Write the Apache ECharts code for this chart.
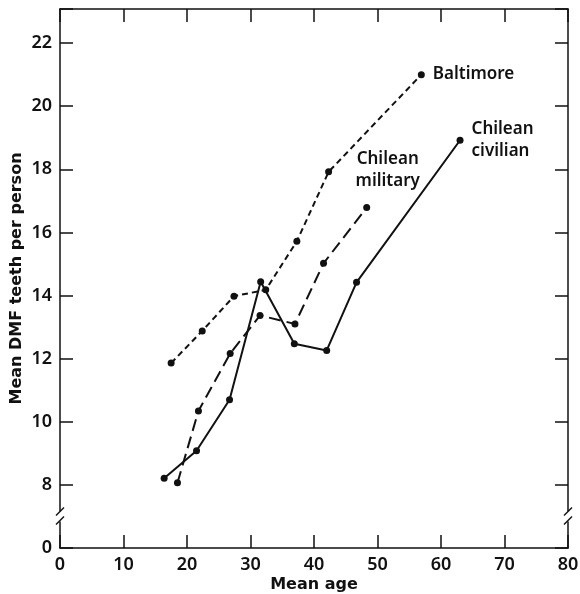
<!DOCTYPE html>
<html>
<head>
<meta charset="utf-8">
<script src="https://cdn.jsdelivr.net/npm/echarts@6/dist/echarts.min.js"></script>
<style>
  html, body { margin: 0; padding: 0; background: #fff; }
  #chart { width: 580px; height: 594px; }
</style>
</head>
<body>
<div id="chart"></div>
<script>
// 数据
const baltimoreAge = [17.5, 22.4, 27.4, 32.4, 37.3, 42.3, 56.9]
const baltimoreDMF = [11.86, 12.88, 13.98, 14.18, 15.72, 17.92, 21.0]
const militaryAge = [18.5, 21.8, 26.8, 31.5, 37.0, 41.5, 48.3]
const militaryDMF = [8.07, 10.34, 12.16, 13.37, 13.1, 15.02, 16.79]
const civilianAge = [16.4, 21.5, 26.7, 31.6, 36.9, 42.0, 46.7, 63.0]
const civilianDMF = [8.21, 9.08, 10.7, 14.44, 12.47, 12.26, 14.42, 18.92]
const yTicks = [8, 10, 12, 14, 16, 18, 20, 22]
// y 轴在 0 与 8 之间断开，底部 6 的位置显示为 0
const yBottom = 6
const yBreak = 7

const font = 'Noto Sans'
const nameFont = 'DejaVu Sans'
const ink = '#111'

const toPairs = (xs, ys) => xs.map((x, i) => [x, ys[i]])

const lastLabel = (pairs, label) => pairs.map((p, i) =>
  i === pairs.length - 1 ? { value: p, label: Object.assign({ show: true }, label) } : p)

const seriesLabelStyle = {
  color: ink,
  fontFamily: font,
  fontSize: 17,
  fontWeight: 600,
  lineHeight: 22
}

const lineSeries = (name, data, dash) => ({
  name,
  type: 'line',
  data,
  symbol: 'circle',
  symbolSize: 7,
  itemStyle: { color: ink },
  lineStyle: { color: ink, width: 2, type: dash },
  z: 3
})

const axisLine = { show: true, onZero: false, lineStyle: { color: ink, width: 1.5 } }
const axisTick = { show: true, inside: true, length: 13, lineStyle: { color: ink, width: 1.5 } }
const tickLabel = { color: ink, fontFamily: font, fontSize: 18, fontWeight: 600, margin: 8 }
const nameStyle = { color: ink, fontFamily: nameFont, fontSize: 16, fontWeight: 'bold' }

const chart = echarts.init(document.getElementById('chart'))

const option = {
  backgroundColor: '#fff',
  animation: false,
  grid: { left: 60, right: 12, top: 9, bottom: 46, containLabel: false, outerBoundsMode: 'none' },
  xAxis: [
    {
      type: 'value',
      position: 'bottom',
      min: 0,
      max: 80,
      interval: 10,
      name: 'Mean age',
      nameLocation: 'middle',
      nameGap: 29,
      nameMoveOverlap: false,
      nameTextStyle: nameStyle,
      axisLine,
      axisTick,
      splitLine: { show: false },
      axisLabel: tickLabel
    },
    {
      type: 'value',
      position: 'top',
      min: 0,
      max: 80,
      interval: 10,
      axisLine,
      axisTick,
      splitLine: { show: false },
      axisLabel: { show: false }
    }
  ],
  yAxis: [
    {
      type: 'value',
      position: 'left',
      min: yBottom,
      max: 23.08,
      interval: 2,
      name: 'Mean DMF teeth per person',
      nameLocation: 'middle',
      nameGap: 35,
      nameMoveOverlap: false,
      nameTextStyle: nameStyle,
      axisLine,
      axisTick,
      splitLine: { show: false },
      axisLabel: Object.assign({}, tickLabel, {
        formatter: v => v === yBottom ? '0' : (yTicks.includes(v) ? String(v) : '')
      })
    },
    {
      type: 'value',
      position: 'right',
      min: yBottom,
      max: 23.08,
      interval: 2,
      axisLine,
      axisTick,
      splitLine: { show: false },
      axisLabel: { show: false }
    }
  ],
  series: [
    lineSeries('Baltimore',
      lastLabel(toPairs(baltimoreAge, baltimoreDMF),
        Object.assign({ position: 'right', distance: 8, formatter: 'Baltimore' }, seriesLabelStyle)),
      [6, 4]),
    lineSeries('Chilean military',
      lastLabel(toPairs(militaryAge, militaryDMF),
        Object.assign({ position: 'top', distance: 12, offset: [21, 0], formatter: 'Chilean\nmilitary' }, seriesLabelStyle)),
      [12, 6]),
    lineSeries('Chilean civilian',
      lastLabel(toPairs(civilianAge, civilianDMF),
        Object.assign({ position: 'right', distance: 8, formatter: 'Chilean\ncivilian' }, seriesLabelStyle)),
      'solid')
  ]
}

chart.setOption(option)

// 坐标轴断裂标记
const breakMarks = () => {
  const y = chart.convertToPixel({ yAxisIndex: 0 }, yBreak)
  const xs = [chart.convertToPixel({ xAxisIndex: 0 }, 0), chart.convertToPixel({ xAxisIndex: 0 }, 80)]
  const elements = []
  xs.forEach(x => {
    elements.push({
      type: 'rect',
      shape: { x: x - 3, y: y - 5, width: 6, height: 10 },
      style: { fill: '#fff' },
      z: 10
    })
    elements.push({
      type: 'line',
      shape: { x1: x - 4, y1: y - 1, x2: x + 4, y2: y - 9 },
      style: { stroke: ink, lineWidth: 1.5 },
      z: 11
    })
    elements.push({
      type: 'line',
      shape: { x1: x - 4, y1: y + 8, x2: x + 4, y2: y },
      style: { stroke: ink, lineWidth: 1.5 },
      z: 11
    })
  })
  chart.setOption({ graphic: elements })
}

breakMarks()
</script>
</body>
</html>
